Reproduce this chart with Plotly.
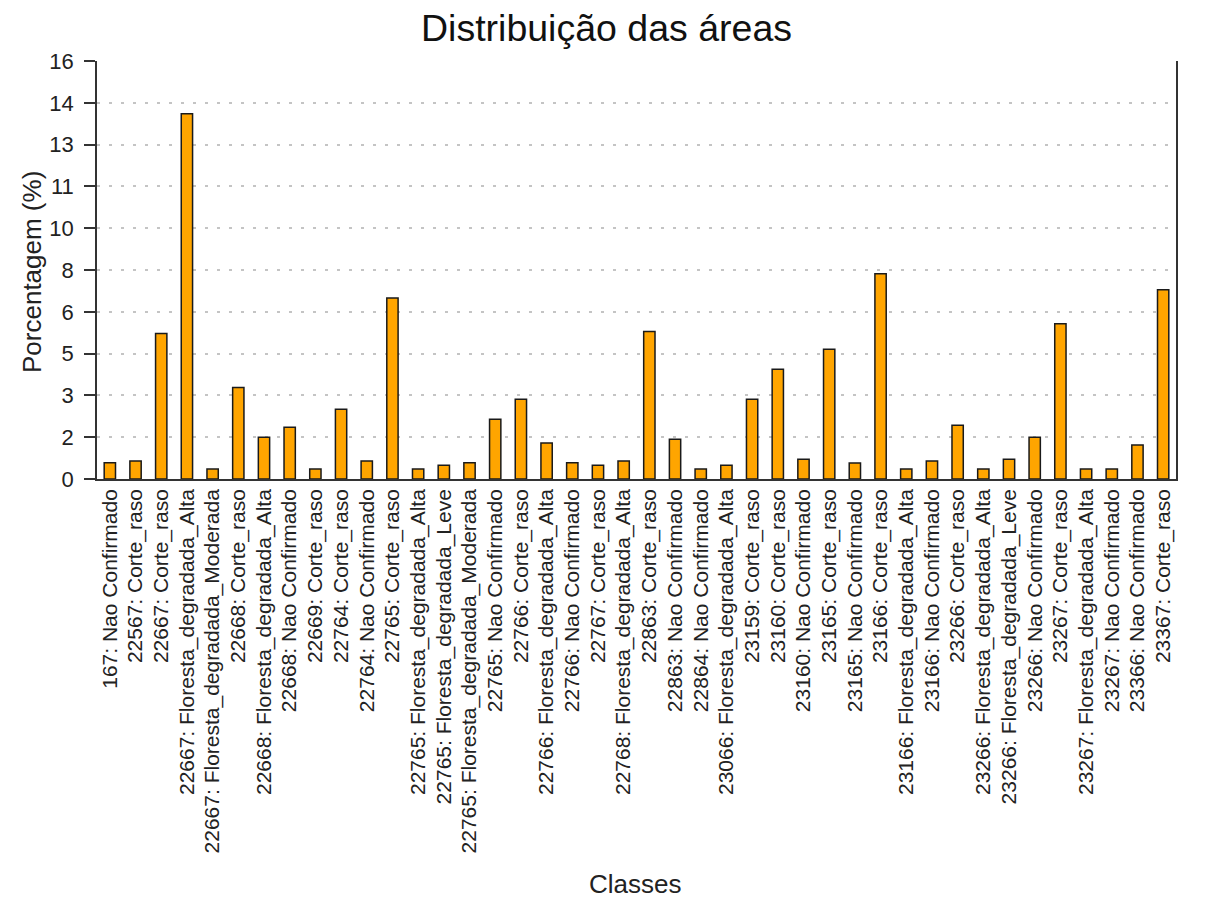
import plotly.graph_objects as go

categories = [
    "167: Nao Confirmado",
    "22567: Corte_raso",
    "22667: Corte_raso",
    "22667: Floresta_degradada_Alta",
    "22667: Floresta_degradada_Moderada",
    "22668: Corte_raso",
    "22668: Floresta_degradada_Alta",
    "22668: Nao Confirmado",
    "22669: Corte_raso",
    "22764: Corte_raso",
    "22764: Nao Confirmado",
    "22765: Corte_raso",
    "22765: Floresta_degradada_Alta",
    "22765: Floresta_degradada_Leve",
    "22765: Floresta_degradada_Moderada",
    "22765: Nao Confirmado",
    "22766: Corte_raso",
    "22766: Floresta_degradada_Alta",
    "22766: Nao Confirmado",
    "22767: Corte_raso",
    "22768: Floresta_degradada_Alta",
    "22863: Corte_raso",
    "22863: Nao Confirmado",
    "22864: Nao Confirmado",
    "23066: Floresta_degradada_Alta",
    "23159: Corte_raso",
    "23160: Corte_raso",
    "23160: Nao Confirmado",
    "23165: Corte_raso",
    "23165: Nao Confirmado",
    "23166: Corte_raso",
    "23166: Floresta_degradada_Alta",
    "23166: Nao Confirmado",
    "23266: Corte_raso",
    "23266: Floresta_degradada_Alta",
    "23266: Floresta_degradada_Leve",
    "23266: Nao Confirmado",
    "23267: Corte_raso",
    "23267: Floresta_degradada_Alta",
    "23267: Nao Confirmado",
    "23366: Nao Confirmado",
    "23367: Corte_raso",
]

percentages = [
    0.62, 0.69, 5.57, 13.98, 0.38, 3.50, 1.60, 1.98, 0.38, 2.67,
    0.69, 6.93, 0.38, 0.53, 0.62, 2.29, 3.05, 1.38, 0.62, 0.53,
    0.69, 5.65, 1.52, 0.38, 0.53, 3.05, 4.20, 0.76, 4.97, 0.61,
    7.86, 0.38, 0.69, 2.06, 0.38, 0.76, 1.60, 5.94, 0.38, 0.38,
    1.30, 7.24,
]

title_text = "Distribuição das áreas"
x_title = "Classes"
y_title = "Porcentagem (%)"

FONT = "Liberation Sans, Arial, sans-serif"
# the page body adds an 8px offset; size the figure to fit the window
W, H = 1197, 896
ML, MT = 89, 53
PW, PH = 1079, 418
MR = W - ML - PW
MB = H - MT - PH

fig = go.Figure()
fig.add_trace(go.Bar(
    x=categories,
    y=percentages,
    marker=dict(color="#FFA500", line=dict(color="#1a1a1a", width=1.5)),
    hoverinfo="x+y",
))

axis_grey = "#333333"
text_col = "#222222"

fig.update_layout(
    width=W, height=H,
    margin=dict(l=ML, r=MR, t=MT, b=MB, pad=0),
    paper_bgcolor="white",
    plot_bgcolor="white",
    bargap=0.56,
    showlegend=False,
    font=dict(family=FONT, color=text_col),
    title=dict(text=title_text, x=0.5, xref="container", xanchor="center",
               y=1 - 20 / H, yref="container", yanchor="middle",
               font=dict(size=37.5, color="#111111", family=FONT)),
    xaxis=dict(
        type="category",
        range=[-0.5, len(categories) - 0.5],
        tickmode="linear", tick0=0, dtick=1,
        tickangle=-90,
        tickfont=dict(size=21, color=text_col),
        showline=True, linecolor=axis_grey, linewidth=1.5,
        ticks="", showgrid=False, zeroline=False,
        automargin=False,
    ),
    yaxis=dict(
        range=[0, 16],
        tick0=0, dtick=1.6, tickformat=".0f",
        tickfont=dict(size=22, color=text_col),
        ticks="outside", ticklen=11, tickwidth=1.5, tickcolor=axis_grey,
        ticklabelstandoff=6,
        showline=True, linecolor=axis_grey, linewidth=1.5, mirror=True,
        showgrid=True, gridcolor="#c4c4c4", gridwidth=1.5, griddash="3px,9px",
        zeroline=False,
        automargin=False,
    ),
    yaxis2=dict(
        overlaying="y", anchor="x", side="left",
        range=[0, 16], tick0=0, dtick=1.6,
        ticks="inside", ticklen=6, tickwidth=1.5, tickcolor=axis_grey,
        showticklabels=False, showgrid=False, showline=False, zeroline=False,
    ),
    annotations=[
        dict(text=x_title, xref="paper", yref="paper",
             x=(635 - 97) / PW, y=(479 - 884) / PH,
             xanchor="center", yanchor="middle", showarrow=False,
             font=dict(size=26, color=text_col, family=FONT)),
        dict(text=y_title, xref="paper", yref="paper",
             x=(32 - 97) / PW, y=(479 - 272) / PH, textangle=-90,
             xanchor="center", yanchor="middle", showarrow=False,
             font=dict(size=26, color=text_col, family=FONT)),
    ],
    shapes=[
        dict(type="line", xref="paper", yref="paper", layer="above",
             x0=-11 / PW, x1=0, y0=0, y1=0,
             line=dict(color=axis_grey, width=1.5)),
    ],
)

fig.write_html("out.html")
